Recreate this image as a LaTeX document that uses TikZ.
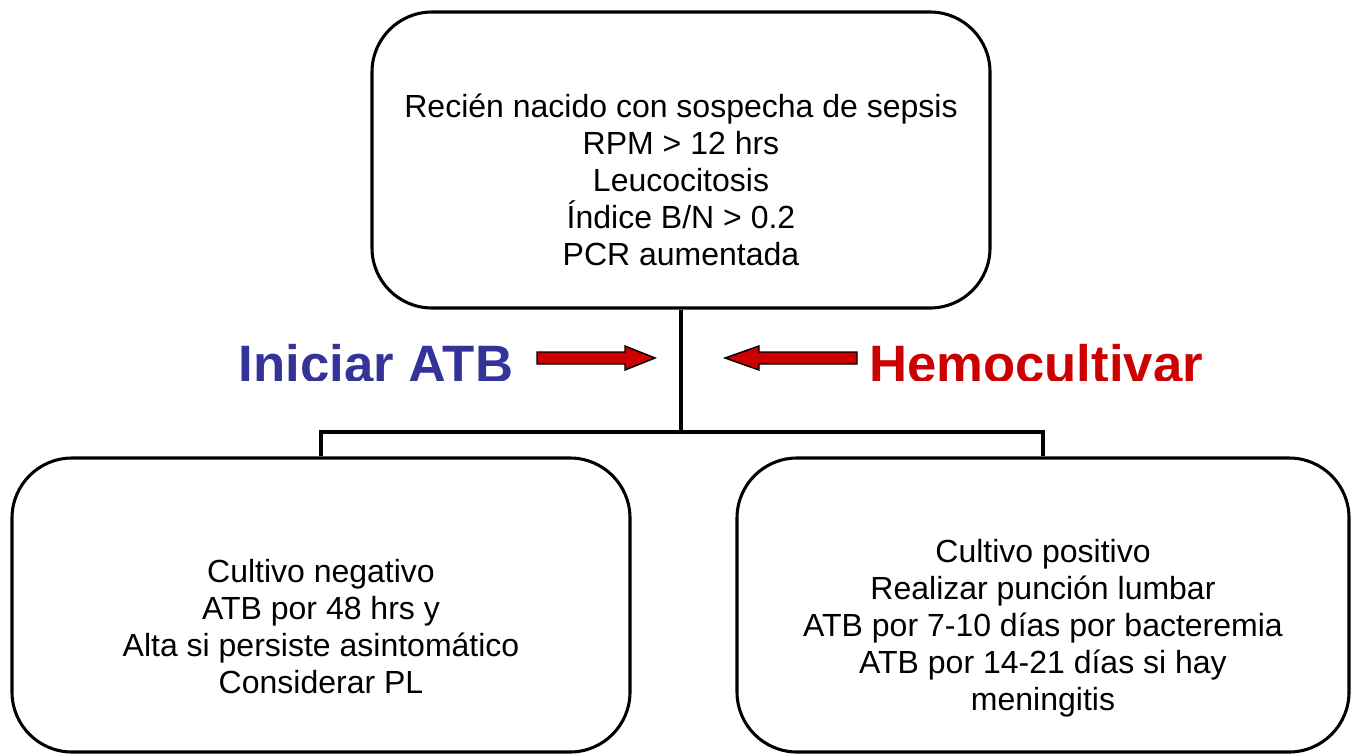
\documentclass[tikz,border=0pt]{standalone}
\usepackage{fontspec}
\setmainfont{Liberation Sans}
\definecolor{titleblue}{HTML}{333399}
\definecolor{titlered}{HTML}{CC0000}
\definecolor{arrowred}{HTML}{CC0000}
\begin{document}
\begin{tikzpicture}[x=0.75pt,y=-0.75pt,
  box/.style={draw=black,line width=2.3pt,rounded corners=45pt,fill=white,inner sep=0pt},
  boxtext/.style={align=center,font=\fontsize{24pt}{27.75pt}\selectfont,inner sep=0pt},
  conn/.style={draw=black,line width=3.4pt,line join=miter},
  bigarrow/.style={draw=black,line width=1.1pt,fill=arrowred,line join=miter},
  title/.style={font=\fontsize{39.5pt}{44pt}\selectfont\bfseries,inner sep=0pt,anchor=base}]
\useasboundingbox (0,0) rectangle (1355,753);
% boxes
\node[box,minimum width=618*0.75pt,minimum height=296*0.75pt] (top) at (681,160) {};
\node[boxtext] (toptext) at (681,180) {Recién nacido con sospecha de sepsis\\RPM > 12 hrs\\Leucocitosis\\Índice B/N > 0.2\\PCR aumentada};
\node[box,minimum width=618*0.75pt,minimum height=294*0.75pt] (left) at (321,605) {};
\node[boxtext] (lefttext) at (321,627) {Cultivo negativo\\ATB por 48 hrs y\\Alta si persiste asintomático\\Considerar PL};
\node[box,minimum width=612*0.75pt,minimum height=294*0.75pt] (right) at (1043,605) {};
\node[boxtext] (righttext) at (1043,628) {Cultivo positivo\\Realizar punción lumbar\\ATB por 7-10 días por bacteremia\\ATB por 14-21 días si hay\\meningitis};
% connectors
\coordinate (j) at (681,432);
\draw[conn] (top.south) -- (j);
\draw[conn] (left.north) |- (j) -| (right.north);
% titles (clipped at bottom as in the original)
\begin{scope}
\clip (0,0) rectangle (1355,380);
\node[title,text=titleblue] (iniciar) at (376,382) {Iniciar ATB};
\node[title,text=titlered] (hemo) at (1036,382) {Hemocultivar};
\end{scope}
% red block arrows
\coordinate (la) at (537,358);
\coordinate (lb) at (655,358);
\draw[bigarrow] (la) ++(0,-6) -- (625,352) -- (625,346) -- (lb) -- (625,370) -- (625,364) -- (537,364) -- cycle;
\coordinate (ra) at (857,358);
\coordinate (rb) at (725,358);
\draw[bigarrow] (ra) ++(0,-6) -- (759,352) -- (759,346) -- (rb) -- (759,370) -- (759,364) -- (857,364) -- cycle;
\end{tikzpicture}
\end{document}
